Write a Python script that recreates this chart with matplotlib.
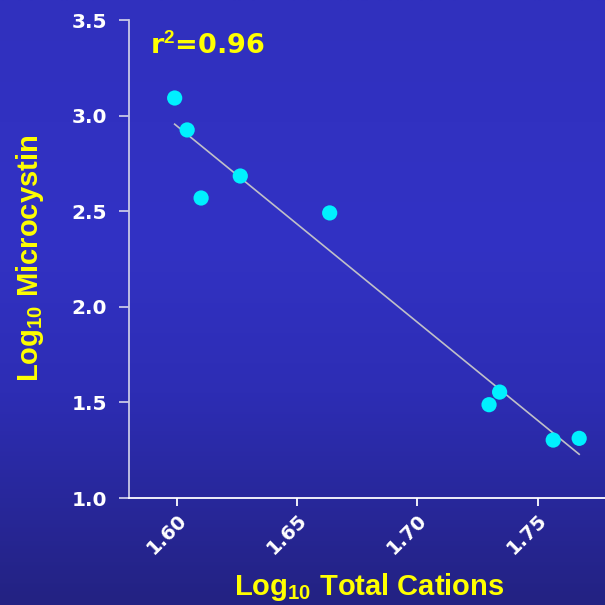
import numpy as np
import matplotlib
matplotlib.use("Agg")
import matplotlib.pyplot as plt
from matplotlib.colors import LinearSegmentedColormap

# Data
log_cations = [1.599, 1.6042, 1.610, 1.6263, 1.6635, 1.7298, 1.7342, 1.7565, 1.7673]
log_microcystin = [3.092, 2.925, 2.569, 2.684, 2.491, 1.488, 1.554, 1.303, 1.312]
x_ticks = [1.60, 1.65, 1.70, 1.75]
x_tick_labels = ["1.60", "1.65", "1.70", "1.75"]
y_ticks = [1.0, 1.5, 2.0, 2.5, 3.0, 3.5]
y_tick_labels = ["1.0", "1.5", "2.0", "2.5", "3.0", "3.5"]

plt.rcParams['mathtext.fontset'] = 'custom'
plt.rcParams['mathtext.bf'] = 'Liberation Sans:bold'
plt.rcParams['mathtext.rm'] = 'Liberation Sans:bold'
plt.rcParams['mathtext.default'] = 'bf'

fig = plt.figure(figsize=(6.05, 6.05), dpi=100)

# gradient background
bg = fig.add_axes([0, 0, 1, 1], zorder=-10)
cmap = LinearSegmentedColormap.from_list("bg", [(0.0, "#232282"), (0.35, "#2d2db4"), (0.6, "#3232c4"), (1.0, "#3030be")])
grad = np.linspace(0, 1, 256).reshape(-1, 1)
bg.imshow(grad, aspect='auto', cmap=cmap, origin='lower', extent=[0, 1, 0, 1])
bg.set_axis_off()

ax = fig.add_axes([129/605, 107/605, 1 - 129/605 + 0.003, 478/605])
ax.patch.set_alpha(0)
ax.set_xlim(1.58, 1.7788)
ax.set_ylim(1.0, 3.5)

x = np.array(log_cations)
y = np.array(log_microcystin)
coef = np.polyfit(x, y, 1)
xl = np.array([x.min(), x.max()])
ax.plot(xl, np.polyval(coef, xl), color="#c0c0c8", lw=1.2, zorder=2)
ax.scatter(x, y, s=120, color="#00f0ff", edgecolors='none', zorder=3)

for s in ['top', 'right']:
    ax.spines[s].set_visible(False)
ax.spines['left'].set_color("#c8c8e6")
ax.spines['bottom'].set_color("#ffffff")
ax.spines['left'].set_linewidth(1.3)
ax.spines['bottom'].set_linewidth(1.3)

ax.set_xticks(x_ticks)
ax.set_xticklabels(x_tick_labels, rotation=45, ha='right', va='top', rotation_mode='anchor',
                   fontfamily='DejaVu Sans', fontweight='bold', fontsize=14, color='white')
ax.set_yticks(y_ticks)
ax.set_yticklabels(y_tick_labels, fontfamily='DejaVu Sans', fontweight='bold', fontsize=14.5, color='white')
ax.tick_params(axis='y', length=7, width=1.3, color="#c8c8e6", pad=9)
ax.tick_params(axis='x', length=6, width=1.3, color="#ffffff", pad=3)

ax.set_xlabel("Log$_{10}$ Total Cations", fontfamily='Liberation Sans', fontweight='bold',
              fontsize=21, color='#ffff00')
ax.set_ylabel("Log$_{10}$ Microcystin", fontfamily='Liberation Sans', fontweight='bold',
              fontsize=21, color='#ffff00')
ax.xaxis.set_label_coords((368.5 - 129) / 476, -(571 - 498) / 478)
ax.yaxis.set_label_coords(-(129 - 46) / 476, (498 - 258) / 478)

ax.text(0.044, (498 - 46) / 478, "r$^{2}$=0.96", transform=ax.transAxes, fontfamily='DejaVu Sans',
        fontweight='bold', fontsize=19.5, color='#ffff00', va='center', ha='left')

fig.savefig("out.png", dpi=100)
